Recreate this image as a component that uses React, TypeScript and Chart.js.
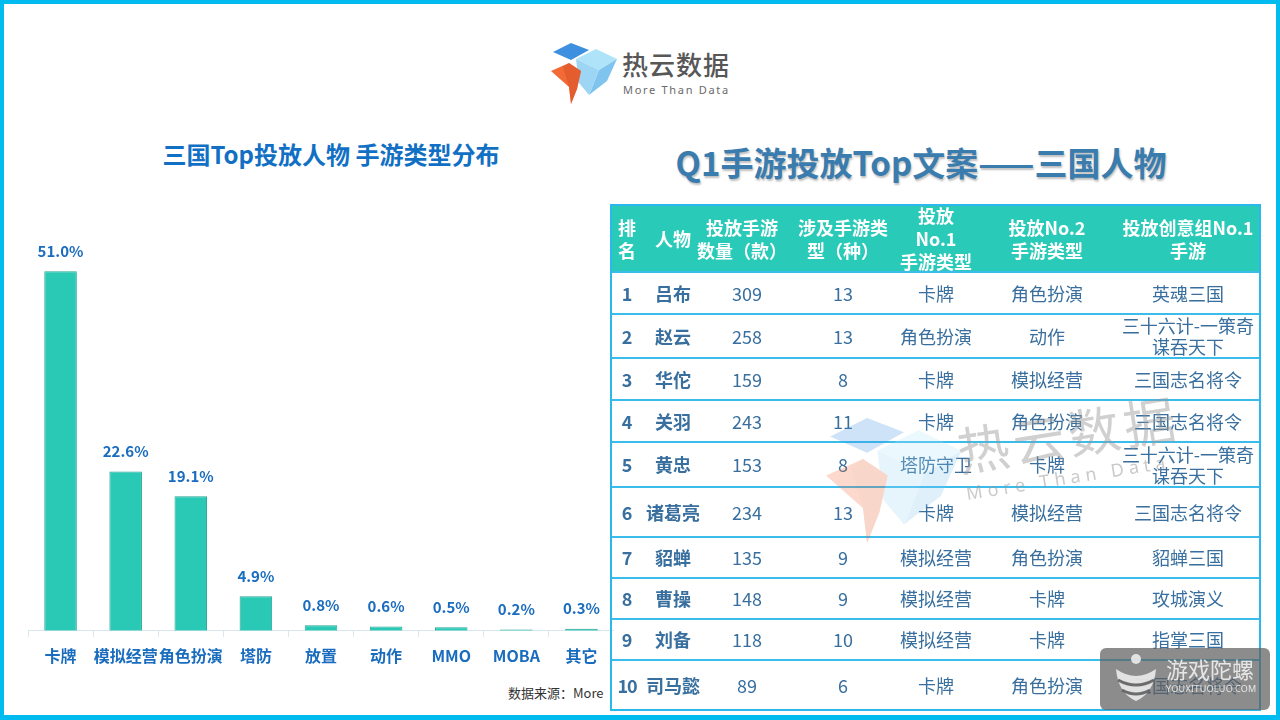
import React, { useEffect, useRef } from "react";
import { Chart, registerables } from "chart.js";

Chart.register(...registerables);

// ---- Chart data ----
const categories = ["卡牌", "模拟经营", "角色扮演", "塔防", "放置", "动作", "MMO", "MOBA", "其它"];
const shares = [51.0, 22.6, 19.1, 4.9, 0.8, 0.6, 0.5, 0.2, 0.3];

// ---- Table data ----
const tableHeaders = ["排\n名", "人物", "投放手游\n数量（款）", "涉及手游类\n型（种）", "投放\nNo.1\n手游类型", "投放No.2\n手游类型", "投放创意组No.1\n手游"];
const ranks = ["1", "2", "3", "4", "5", "6", "7", "8", "9", "10"];
const names = ["吕布", "赵云", "华佗", "关羽", "黄忠", "诸葛亮", "貂蝉", "曹操", "刘备", "司马懿"];
const gameCounts = [309, 258, 159, 243, 153, 234, 135, 148, 118, 89];
const typeCounts = [13, 13, 8, 11, 8, 13, 9, 9, 10, 6];
const top1Types = ["卡牌", "角色扮演", "卡牌", "卡牌", "塔防守卫", "卡牌", "模拟经营", "模拟经营", "模拟经营", "卡牌"];
const top2Types = ["角色扮演", "动作", "模拟经营", "角色扮演", "卡牌", "模拟经营", "角色扮演", "卡牌", "卡牌", "角色扮演"];
const topGames = ["英魂三国", "三十六计-一策奇\n谋吞天下", "三国志名将令", "三国志名将令", "三十六计-一策奇\n谋吞天下", "三国志名将令", "貂蝉三国", "攻城演义", "指掌三国", "三国志名将令"];

const FONT = '"Noto Sans CJK SC", "Noto Sans", sans-serif';

// layout (page coords)
const rowLines = [272, 314, 358, 400, 442, 487, 537, 578, 619, 660, 710];
const colCenters = [627, 673, 747, 843, 936, 1047, 1188];
const headCenters = [627, 673, 742, 843, 936, 1047, 1188];
const TABLE_LEFT = 611;
const TABLE_TOP = 205;

const valueLabelPlugin = {
  id: "valueLabels",
  afterDatasetsDraw(chart: any) {
    const ctx = chart.ctx;
    const meta = chart.getDatasetMeta(0);
    ctx.save();
    ctx.font = `bold 15px ${FONT}`;
    ctx.fillStyle = "#1a6cbf";
    ctx.textAlign = "center";
    ctx.textBaseline = "middle";
    meta.data.forEach((bar: any, i: number) => {
      const v = chart.data.datasets[0].data[i] as number;
      ctx.fillText(v.toFixed(1) + "%", bar.x, bar.y - 20);
    });
    ctx.restore();
  },
};

function BarChart() {
  const ref = useRef<HTMLCanvasElement>(null);
  useEffect(() => {
    if (!ref.current) return;
    const chart = new Chart(ref.current, {
      type: "bar",
      data: {
        labels: categories,
        datasets: [
          {
            data: shares,
            backgroundColor: "#29c9b5",
            borderColor: "#22a596",
            borderWidth: 1,
            barPercentage: 0.5,
            categoryPercentage: 1.0,
          },
        ],
      },
      options: {
        responsive: false,
        animation: false,
        layout: { padding: { top: 10, left: 0, right: 0, bottom: 0 } },
        plugins: { legend: { display: false }, tooltip: { enabled: false } },
        scales: {
          x: {
            grid: { drawOnChartArea: false, drawTicks: true, tickLength: 6, color: "#d8e6ef" },
            border: { color: "#d8e6ef" },
            ticks: {
              color: "#1a6cbe",
              font: { size: 16, weight: "bold", family: FONT },
              padding: 10,
              maxRotation: 0,
              minRotation: 0,
              autoSkip: false,
            },
          },
          y: { display: false, min: 0, max: 59.7 },
        },
      },
      plugins: [valueLabelPlugin],
    });
    return () => chart.destroy();
  }, []);
  return (
    <canvas
      ref={ref}
      width={586}
      height={476}
      style={{ position: "absolute", left: 28, top: 200, width: 586, height: 476 }}
    />
  );
}

function Cell({ x, y, h, text, style }: { x: number; y: number; h: number; text: string; style: React.CSSProperties }) {
  return (
    <div
      style={{
        position: "absolute",
        left: x - 100,
        top: y,
        width: 200,
        height: h,
        display: "flex",
        alignItems: "center",
        justifyContent: "center",
        textAlign: "center",
        whiteSpace: "pre",
        ...style,
      }}
    >
      {text}
    </div>
  );
}

function Logo({ x, y, scale = 1, opacity = 1 }: { x: number; y: number; scale?: number; opacity?: number }) {
  return (
    <svg
      width={70 * scale}
      height={62 * scale}
      viewBox="0 0 70 62"
      style={{ position: "absolute", left: x, top: y, opacity }}
    >
      <polygon points="4,9 22,0 40,7 22,17" fill="#3d8fdf" />
      <polygon points="27,16 47,6 68,16 50,27" fill="#aee3f9" />
      <polygon points="50,27 68,16 58,38 40,52" fill="#7fc4ee" />
      <polygon points="27,16 50,27 40,52 30,40" fill="#9dd6f4" />
      <polygon points="2,28 20,20 32,28 28,46 22,61 20,44" fill="#f26a35" />
      <polygon points="20,20 32,28 28,46 22,61 20,44 14,24" fill="#d9552a" opacity={0.6} />
    </svg>
  );
}

function DataTable() {
  const rows = ranks.map((r, i) => [r, names[i], String(gameCounts[i]), String(typeCounts[i]), top1Types[i], top2Types[i], topGames[i]]);
  return (
    <>
      <div
        style={{
          position: "absolute",
          left: TABLE_LEFT,
          top: TABLE_TOP,
          width: 649,
          height: rowLines[0] - TABLE_TOP,
          background: "#2acab8",
        }}
      />
      {tableHeaders.map((t, c) => (
        <Cell
          key={"h" + c}
          x={headCenters[c]}
          y={TABLE_TOP}
          h={rowLines[0] - TABLE_TOP}
          text={t}
          style={{ color: "#ffffff", fontWeight: "bold", fontSize: 18, lineHeight: "23px", fontFamily: FONT }}
        />
      ))}
      {rows.map((row, i) =>
        row.map((t, c) => (
          <Cell
            key={i + "-" + c}
            x={colCenters[c]}
            y={rowLines[i]}
            h={rowLines[i + 1] - rowLines[i]}
            text={t}
            style={{
              color: "#386f9e",
              fontWeight: c < 2 ? "bold" : "normal",
              fontSize: 18,
              lineHeight: "21px",
              fontFamily: FONT,
              letterSpacing: c === 0 && t.length > 1 ? -1 : 0,
            }}
          />
        ))
      )}
      {rowLines.slice(0, -1).map((y, i) => (
        <div
          key={"l" + i}
          style={{ position: "absolute", left: TABLE_LEFT, top: y - 1, width: 649, height: 2, background: "#3bbdec" }}
        />
      ))}
      <div
        style={{
          position: "absolute",
          left: TABLE_LEFT - 1,
          top: TABLE_TOP - 1,
          width: 651,
          height: rowLines[rowLines.length - 1] - TABLE_TOP + 2,
          border: "2px solid #2bb8ec",
          boxSizing: "border-box",
        }}
      />
    </>
  );
}

export default function App() {
  useEffect(() => {
    document.body.style.margin = "0";
  }, []);
  return (
    <div
      style={{
        position: "fixed",
        left: 0,
        top: 0,
        width: 1280,
        height: 720,
        background: "#ffffff",
        overflow: "hidden",
        fontFamily: FONT,
      }}
    >
      {/* top logo */}
      <Logo x={549} y={43} />
      <div style={{ position: "absolute", left: 622, top: 48, fontSize: 26, color: "#575757", letterSpacing: 1, lineHeight: "32px", fontWeight: 500 }}>
        热云数据
      </div>
      <div style={{ position: "absolute", left: 623, top: 82, fontSize: 11, color: "#6a6a6a", letterSpacing: 1.7, lineHeight: "16px", fontFamily: '"Noto Sans", sans-serif' }}>
        More Than Data
      </div>

      {/* left title */}
      <div style={{ position: "absolute", left: 81, top: 137, width: 500, textAlign: "center", fontSize: 24, fontWeight: "bold", color: "#1170c4", lineHeight: "34px" }}>
        三国Top投放人物 手游类型分布
      </div>

      {/* right title */}
      <div
        style={{
          position: "absolute",
          left: 571,
          top: 139,
          width: 700,
          textAlign: "center",
          fontSize: 33,
          fontWeight: "bold",
          color: "#3a7cae",
          lineHeight: "46px",
          textShadow: "1px 2px 2px rgba(0,0,0,0.25)",
        }}
      >
        Q1手游投放Top文案——三国人物
      </div>

      <BarChart />

      <div style={{ position: "absolute", left: 508, top: 684, fontSize: 13, color: "#333333", lineHeight: "18px" }}>
        数据来源：More
      </div>

      <DataTable />

      {/* center watermark */}
      <div style={{ position: "absolute", left: 0, top: 0, width: 1280, height: 720, pointerEvents: "none" }}>
        <Logo x={822} y={418} scale={2.05} opacity={0.25} />
        <div
          style={{
            position: "absolute",
            left: 962,
            top: 420,
            fontSize: 52,
            color: "rgba(150,150,150,0.45)",
            transform: "rotate(-9deg)",
            transformOrigin: "left bottom",
            lineHeight: "60px",
            letterSpacing: 4,
          }}
        >
          热云数据
        </div>
        <div
          style={{
            position: "absolute",
            left: 968,
            top: 482,
            fontSize: 18,
            color: "rgba(150,150,150,0.5)",
            transform: "rotate(-9deg)",
            transformOrigin: "left bottom",
            lineHeight: "22px",
            letterSpacing: 5,
            fontFamily: '"Noto Sans", sans-serif',
          }}
        >
          More Than Data
        </div>
      </div>

      {/* bottom-right watermark */}
      <div
        style={{
          position: "absolute",
          left: 1100,
          top: 648,
          width: 170,
          height: 62,
          background: "rgba(95,95,95,0.72)",
          borderRadius: 6,
        }}
      >
        <svg width="44" height="52" viewBox="0 0 44 52" style={{ position: "absolute", left: 14, top: 5 }}>
          <circle cx="22" cy="6" r="5" fill="rgba(235,235,235,0.9)" />
          <path d="M2,16 Q22,30 42,16 Q40,40 22,48 Q4,40 2,16 Z" fill="rgba(235,235,235,0.9)" />
          <path d="M4,27 Q22,37 40,27" stroke="rgba(95,95,95,0.9)" strokeWidth="3" fill="none" />
          <path d="M8,37 Q22,45 36,37" stroke="rgba(95,95,95,0.9)" strokeWidth="3" fill="none" />
        </svg>
        <div style={{ position: "absolute", left: 66, top: 6, fontSize: 22, color: "rgba(240,240,240,0.9)", lineHeight: "28px" }}>
          游戏陀螺
        </div>
        <div style={{ position: "absolute", left: 66, top: 35, fontSize: 9, color: "rgba(240,240,240,0.9)", lineHeight: "12px", fontFamily: '"Noto Sans", sans-serif', letterSpacing: 0.3 }}>
          YOUXITUOLUO.COM
        </div>
      </div>

      {/* page frame */}
      <div
        style={{
          position: "absolute",
          left: 0,
          top: 0,
          width: 1280,
          height: 720,
          borderTop: "4px solid #00bbf0",
          borderLeft: "4px solid #00bbf0",
          borderRight: "4px solid #00bbf0",
          borderBottom: "5px solid #00bbf0",
          boxSizing: "border-box",
          pointerEvents: "none",
        }}
      />
    </div>
  );
}
